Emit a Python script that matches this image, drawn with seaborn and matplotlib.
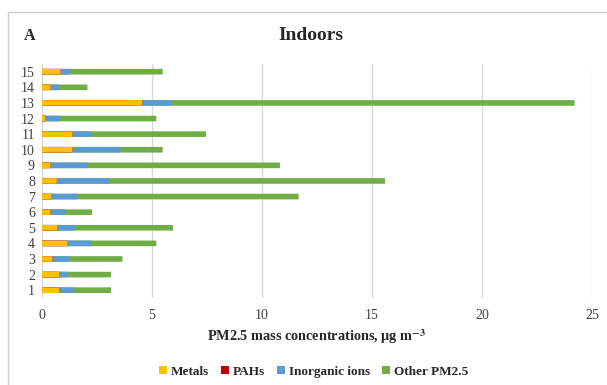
import numpy as np
import pandas as pd
import seaborn as sns
import matplotlib.pyplot as plt
from matplotlib.patches import Rectangle

# values (ug/m3), sites 1..15
sites = [str(i) for i in range(1, 16)]
metals = [0.79, 0.79, 0.48, 1.17, 0.71, 0.39, 0.44, 0.68, 0.39, 1.39, 1.39, 0.15, 4.56, 0.39, 0.85]
pahs = [0.002, 0.002, 0.002, 0.002, 0.002, 0.002, 0.002, 0.002, 0.002, 0.002, 0.002, 0.002, 0.003, 0.002, 0.002]
inorganic = [0.68, 0.37, 0.75, 1.05, 0.78, 0.66, 1.17, 2.40, 1.68, 2.18, 0.83, 0.64, 1.34, 0.37, 0.44]
other = [1.67, 1.98, 2.43, 2.98, 4.47, 1.23, 10.06, 12.52, 8.75, 1.92, 5.24, 4.41, 18.31, 1.31, 4.20]

labels = ["Metals", "PAHs", "Inorganic ions", "Other PM2.5"]
colors = ["#FFC000", "#C00000", "#5B9BD5", "#70AD47"]

df = pd.DataFrame({"site": sites, "Metals": metals, "PAHs": pahs,
                   "Inorganic ions": inorganic, "Other PM2.5": other})
cum = df[labels].cumsum(axis=1)

sns.set_theme(style="white")
plt.rcParams['font.family'] = ['Liberation Serif', 'DejaVu Serif']
plt.rcParams['mathtext.fontset'] = 'stix'

fig = plt.figure(figsize=(6.07, 3.85), dpi=100)
ax = fig.add_axes([0.069, 0.226, 0.906, 0.608])

order = sites[::-1]
# draw cumulative totals back to front so they look stacked
for lab, col in zip(labels[::-1], colors[::-1]):
    sns.barplot(x=cum[lab], y=df["site"], order=order, color=col, orient="h",
                width=0.36, ax=ax, label=lab, linewidth=0, saturation=1, snap=False)

handles, hl = ax.get_legend_handles_labels()
hmap = dict(zip(hl, handles))
if ax.get_legend() is not None:
    ax.get_legend().remove()

ax.set_xlim(0, 25)
ax.set_xticks(np.arange(0, 26, 5))
ax.grid(axis="x", color="#d9d9d9", linewidth=1)
ax.set_axisbelow(True)
for s in ax.spines.values():
    s.set_visible(False)
ax.tick_params(axis="both", length=0, labelsize=10, colors="#404040")
ax.tick_params(axis="x", pad=8)
ax.tick_params(axis="y", pad=5)
ax.set_ylabel("")
ax.set_xlabel(r"PM2.5 mass concentrations, μg m$^{\mathbf{-3}}$", fontsize=10.3,
              fontweight="bold", labelpad=1)
ax.xaxis.set_label_coords(0.5, -0.125)

fig.legend([hmap[l] for l in labels], labels, loc="center", bbox_to_anchor=(0.517, 0.034),
           ncol=4, frameon=False, handlelength=0.6, handleheight=0.6, handletextpad=0.3,
           columnspacing=0.9, prop={"weight": "bold", "size": 9.5})

fig.text(0.512, 0.907, "Indoors", ha="center", va="center", fontsize=14, fontweight="bold")
fig.text(0.049, 0.907, "A", ha="center", va="center", fontsize=11.5, fontweight="bold")

fig.patches.append(Rectangle((8 / 607, -0.1), 1.2, 1 - 12 / 385 + 0.1, transform=fig.transFigure,
                             fill=False, edgecolor="#d0d0d0", linewidth=1))

fig.savefig("out.png", dpi=100)
